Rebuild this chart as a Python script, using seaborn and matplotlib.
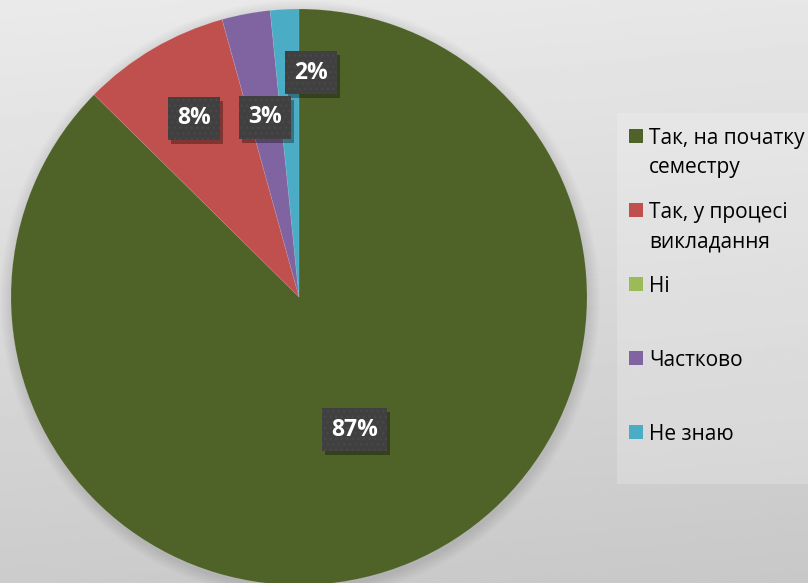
import numpy as np
import matplotlib
matplotlib.use("Agg")
import matplotlib.pyplot as plt
from matplotlib.patches import Rectangle, Circle
import seaborn as sns

# ---- data ----
categories = ["Так, на початку\nсеместру", "Так, у процесі\nвикладання", "Ні", "Частково", "Не знаю"]
values = [87.4, 8.3, 0.0, 2.7, 1.6]
colors = ["#4F6228", "#C0504D", "#9BBB59", "#8064A2", "#4BACC6"]
label_dist = [0.50, 0.72, 0.0, 0.635, 0.78]
label_turn = [0.0, 0.0, 0.0, 0.0, -6.0]

sns.set_theme(style="white")
plt.rcParams["font.family"] = ["Open Sans", "DejaVu Sans"]

W, H = 808, 583
fig = plt.figure(figsize=(W / 100, H / 100), dpi=100)
ax = fig.add_axes([0, 0, 1, 1])

# background gradient
yy, xx = np.mgrid[0:1:200j, 0:1:200j]
bg = 0.918 - 0.12 * yy - 0.015 * xx
ax.imshow(bg, cmap="gray", vmin=0, vmax=1, extent=(0, W, 0, H), origin="upper",
          zorder=0, aspect="auto", interpolation="bilinear")

cx, cy, R = 299, H - 297, 288

# soft shadow around pie
for k in range(12):
    ax.add_patch(Circle((cx + 1, cy - 3), R + 12 - k, facecolor="black",
                        alpha=0.009, edgecolor="none", zorder=1))

palette = sns.color_palette(colors)
wedges, _ = ax.pie(values, colors=palette, startangle=90, counterclock=False,
                   center=(cx, cy), radius=R, normalize=True,
                   wedgeprops=dict(linewidth=0.5, edgecolor=(1, 1, 1, 0.12)))
for w in wedges:
    w.set_zorder(2)

ax.set_xlim(0, W)
ax.set_ylim(0, H)
ax.set_aspect("auto")
ax.axis("off")

# percentage labels
plt.rcParams["hatch.linewidth"] = 1.0
total = sum(values)
labels = []
for w, v, d, turn in zip(wedges, values, label_dist, label_turn):
    if v <= 0:
        continue
    th = np.deg2rad((w.theta1 + w.theta2) / 2 + turn)
    x = cx + R * d * np.cos(th)
    y = cy + R * d * np.sin(th)
    t = ax.text(x, y, f"{round(v / total * 100):d}%", ha="center", va="center",
                color="white", fontsize=16.5, fontweight="bold", zorder=6)
    labels.append(t)

fig.canvas.draw()
renderer = fig.canvas.get_renderer()
inv = ax.transData.inverted()
for t in labels:
    bb = t.get_window_extent(renderer)
    (x0, y0b), (x1, y1b) = inv.transform([(bb.x0, bb.y0), (bb.x1, bb.y1)])
    xm, ym = (x0 + x1) / 2, (y0b + y1b) / 2
    bw, bh = (x1 - x0) + 18, 43
    ax.add_patch(Rectangle((xm - bw / 2 + 3, ym - bh / 2 - 4), bw, bh,
                           facecolor="black", alpha=0.33, edgecolor="none", zorder=4))
    ax.add_patch(Rectangle((xm - bw / 2, ym - bh / 2), bw, bh, facecolor="#404040",
                           edgecolor="#484848", linewidth=0, hatch="...", zorder=5))

# legend (manual, figure pixel layout)
ax.add_patch(Rectangle((617, H - 484), W - 617, 484 - 113, facecolor="white",
                       alpha=0.2, edgecolor="none", zorder=3))
y0, step, line = 136, 74, 29
for i, (lab, col) in enumerate(zip(categories, colors)):
    yc = y0 + step * i
    ax.add_patch(Rectangle((629, H - yc - 7), 14, 14, facecolor=col,
                           edgecolor="none", zorder=4))
    for j, ln in enumerate(lab.split("\n")):
        ax.text(649, H - (yc + line * j), ln, ha="left", va="center_baseline",
                fontsize=15, color="black", zorder=4)

fig.savefig("out.png", dpi=100)
